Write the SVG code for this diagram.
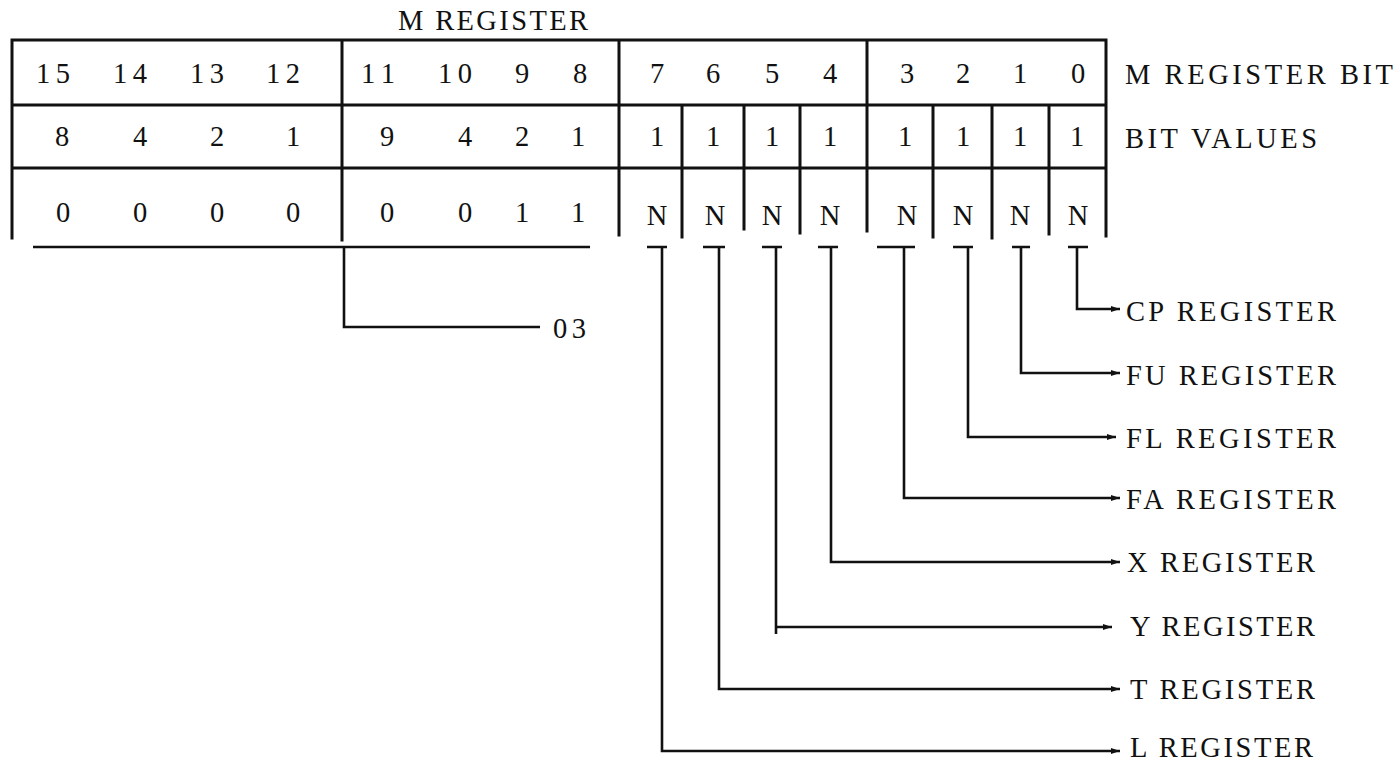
<svg xmlns="http://www.w3.org/2000/svg" width="1398" height="761" viewBox="0 0 1398 761">
<defs>
<style>
.t{font-family:"Liberation Serif","Times New Roman",serif;font-size:28.5px;fill:#111;}
.c{text-anchor:middle;}
.grid{stroke:#111;stroke-width:3;fill:none;stroke-linecap:square;}
.con{stroke:#111;stroke-width:2.6;fill:none;}
</style>
<marker id="ah" markerUnits="userSpaceOnUse" markerWidth="9" markerHeight="6" refX="9" refY="3" orient="auto">
<path d="M0,0 L9,3 L0,6 z" fill="#111"/>
</marker>
</defs>
<rect width="1398" height="761" fill="#fff"/>

<g id="title"><text class="t" x="398" y="30" textLength="190" lengthAdjust="spacing">M REGISTER</text></g>

<g id="register-table">
<path class="grid" d="M12,40 H1106 M12,105 H1106 M12,168 H1106 M12,40 V238 M342,40 V240 M619,40 V235 M867,40 V231 M1106,40 V236 M682,105 V237 M744,105 V229 M800,105 V233 M933,105 V237 M992,105 V238 M1049,105 V234"/>
<g id="row-bits" class="t c">
<text x="53" y="83" textLength="34" lengthAdjust="spacing">15</text><text x="130" y="83" textLength="34" lengthAdjust="spacing">14</text><text x="207" y="83" textLength="34" lengthAdjust="spacing">13</text><text x="283" y="83" textLength="34" lengthAdjust="spacing">12</text>
<text x="378" y="83" textLength="34" lengthAdjust="spacing">11</text><text x="455" y="83" textLength="34" lengthAdjust="spacing">10</text><text x="522" y="83">9</text><text x="580" y="83">8</text>
<text x="657" y="83">7</text><text x="713" y="83">6</text><text x="772" y="83">5</text><text x="830" y="83">4</text>
<text x="907" y="83">3</text><text x="963" y="83">2</text><text x="1020" y="83">1</text><text x="1078" y="83">0</text>
</g>
<g id="row-values" class="t c">
<text x="62" y="146">8</text><text x="140" y="146">4</text><text x="217" y="146">2</text><text x="293" y="146">1</text>
<text x="387" y="146">9</text><text x="465" y="146">4</text><text x="522" y="146">2</text><text x="578" y="146">1</text>
<text x="657" y="146">1</text><text x="713" y="146">1</text><text x="772" y="146">1</text><text x="830" y="146">1</text>
<text x="905" y="146">1</text><text x="963" y="146">1</text><text x="1020" y="146">1</text><text x="1077" y="146">1</text>
</g>
<g id="row-contents" class="t c">
<text x="63" y="222">0</text><text x="140" y="222">0</text><text x="217" y="222">0</text><text x="293" y="222">0</text>
<text x="387" y="222">0</text><text x="465" y="222">0</text><text x="522" y="222">1</text><text x="578" y="222">1</text>
<text x="657" y="225">N</text><text x="715" y="225">N</text><text x="772" y="225">N</text><text x="830" y="225">N</text>
<text x="907" y="225">N</text><text x="963" y="225">N</text><text x="1020" y="225">N</text><text x="1078" y="225">N</text>
</g>
</g>

<g id="row-labels" class="t">
<text x="1125" y="84" textLength="268" lengthAdjust="spacing">M REGISTER BIT</text>
<text x="1125" y="148" textLength="192" lengthAdjust="spacing">BIT VALUES</text>
</g>

<g id="connectors">
<path class="con" d="M33,247 H590 M344,247 V327 H540"/>
<path class="con" d="M647,247 H667 M703,247 H725 M762,247 H782 M818,247 H838 M877,247 H915 M953,247 H973 M1012,247 H1030 M1068,247 H1088"/>
<path class="con" marker-end="url(#ah)" d="M1077,247 V309 H1120"/>
<path class="con" marker-end="url(#ah)" d="M1021,247 V373 H1120"/>
<path class="con" marker-end="url(#ah)" d="M968,247 V437 H1116"/>
<path class="con" marker-end="url(#ah)" d="M904,247 V498 H1120"/>
<path class="con" marker-end="url(#ah)" d="M831,247 V562 H1120"/>
<path class="con" d="M776,247 V634"/>
<path class="con" marker-end="url(#ah)" d="M776,627 H1112"/>
<path class="con" marker-end="url(#ah)" d="M719,247 V689 H1120"/>
<path class="con" marker-end="url(#ah)" d="M662,247 V751 H1120"/>
</g>

<g id="outputs" class="t">
<text x="553" y="338" textLength="33" lengthAdjust="spacing">03</text>
<text x="1126" y="321" textLength="210" lengthAdjust="spacing">CP REGISTER</text>
<text x="1126" y="385" textLength="210" lengthAdjust="spacing">FU REGISTER</text>
<text x="1126" y="448" textLength="210" lengthAdjust="spacing">FL REGISTER</text>
<text x="1126" y="509" textLength="210" lengthAdjust="spacing">FA REGISTER</text>
<text x="1127" y="572" textLength="188" lengthAdjust="spacing">X REGISTER</text>
<text x="1130" y="636" textLength="185" lengthAdjust="spacing">Y REGISTER</text>
<text x="1130" y="699" textLength="185" lengthAdjust="spacing">T REGISTER</text>
<text x="1130" y="757" textLength="183" lengthAdjust="spacing">L REGISTER</text>
</g>
</svg>
